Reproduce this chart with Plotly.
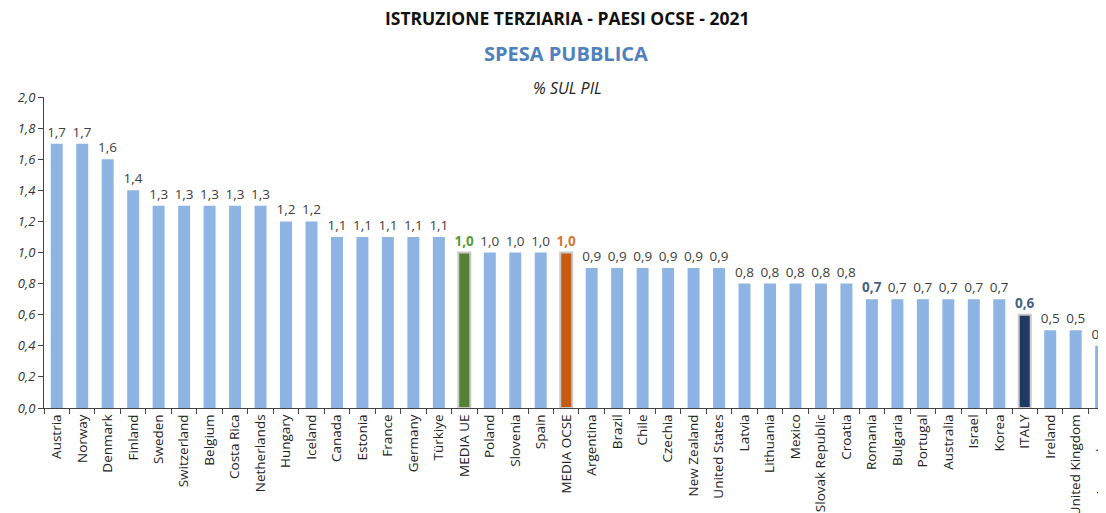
import plotly.graph_objects as go

countries = ["Austria", "Norway", "Denmark", "Finland", "Sweden", "Switzerland", "Belgium",
             "Costa Rica", "Netherlands", "Hungary", "Iceland", "Canada", "Estonia", "France",
             "Germany", "Türkiye", "MEDIA UE", "Poland", "Slovenia", "Spain", "MEDIA OCSE",
             "Argentina", "Brazil", "Chile", "Czechia", "New Zealand", "United States", "Latvia",
             "Lithuania", "Mexico", "Slovak Republic", "Croatia", "Romania", "Bulgaria",
             "Portugal", "Australia", "Israel", "Korea", "ITALY", "Ireland", "United Kingdom",
             "Luxembourg"]
values = [1.7, 1.7, 1.6, 1.4, 1.3, 1.3, 1.3, 1.3, 1.3, 1.2, 1.2, 1.1, 1.1, 1.1, 1.1, 1.1,
          1.0, 1.0, 1.0, 1.0, 1.0, 0.9, 0.9, 0.9, 0.9, 0.9, 0.9, 0.8, 0.8, 0.8, 0.8, 0.8,
          0.7, 0.7, 0.7, 0.7, 0.7, 0.7, 0.6, 0.5, 0.5, 0.4]
y_ticks = [0.0, 0.2, 0.4, 0.6, 0.8, 1.0, 1.2, 1.4, 1.6, 1.8, 2.0]

BASE = "#8db4e2"
special_bar = {"MEDIA UE": "#548235", "MEDIA OCSE": "#c55a11", "ITALY": "#1f3864"}
special_lbl = {"MEDIA UE": "#5a9a35", "MEDIA OCSE": "#d2782e", "ITALY": "#44627f",
               "Romania": "#44627f"}

bar_colors = [special_bar.get(c, BASE) for c in countries]
line_colors = ["#c8c8c8" if c in special_bar else BASE for c in countries]
line_widths = [2 if c in special_bar else 0 for c in countries]
labels = [f"{v:.1f}".replace(".", ",") for v in values]
labels = [f"<b>{t}</b>" if c in special_lbl else t for c, t in zip(countries, labels)]
lbl_colors = [special_lbl.get(c, "#404040") for c in countries]

fig = go.Figure(go.Bar(
    x=countries, y=values, width=0.47,
    marker=dict(color=bar_colors, line=dict(color=line_colors, width=line_widths)),
    text=labels, textposition="outside", cliponaxis=False, constraintext="none",
    textfont=dict(family="Open Sans", size=13.5, color=lbl_colors),
))

PH = 311  # plot-area height in px
fig.update_layout(
    width=1098, height=505,
    margin=dict(l=36, r=0, t=89, b=105),
    paper_bgcolor="white", plot_bgcolor="white",
    separators=",.",
    showlegend=False,
    font=dict(family="Open Sans", color="#222222"),
    xaxis=dict(
        range=[-0.5, 41.19], tickangle=-90, tickson="boundaries", automargin=False,
        ticks="outside", ticklen=5, tickcolor="#444", showline=True,
        linecolor="#444", linewidth=1, tickfont=dict(size=13.5, color="#222"),
        showgrid=False, ticklabeloverflow="allow",
    ),
    yaxis=dict(
        range=[0, 2.0], tickvals=y_ticks, tickformat=".1f", automargin=False,
        ticks="outside", ticklen=5, tickcolor="#444", showline=True,
        linecolor="#444", linewidth=1, showgrid=False, zeroline=False,
        tickfont=dict(size=13, color="#333", family="Open Sans", style="italic"),
    ),
    annotations=[
        dict(text="<b>ISTRUZIONE TERZIARIA - PAESI OCSE - 2021</b>", xref="paper", yref="paper",
             x=(567 - 44) / 1062, y=1 + (408 - 18 - PH) / PH, showarrow=False,
             xanchor="center", yanchor="middle",
             font=dict(family="Open Sans", size=17.5, color="#111")),
        dict(text="<b>SPESA PUBBLICA</b>", xref="paper", yref="paper",
             x=(566 - 44) / 1062, y=1 + (408 - 53 - PH) / PH, showarrow=False,
             xanchor="center", yanchor="middle",
             font=dict(family="Open Sans", size=20, color="#4f81bd")),
        dict(text="<i>% SUL PIL</i>", xref="paper", yref="paper",
             x=(567 - 44) / 1062, y=1 + (408 - 88 - PH) / PH, showarrow=False,
             xanchor="center", yanchor="middle",
             font=dict(family="Open Sans", size=16, color="#222")),
    ],
)

fig.write_html("out.html")
